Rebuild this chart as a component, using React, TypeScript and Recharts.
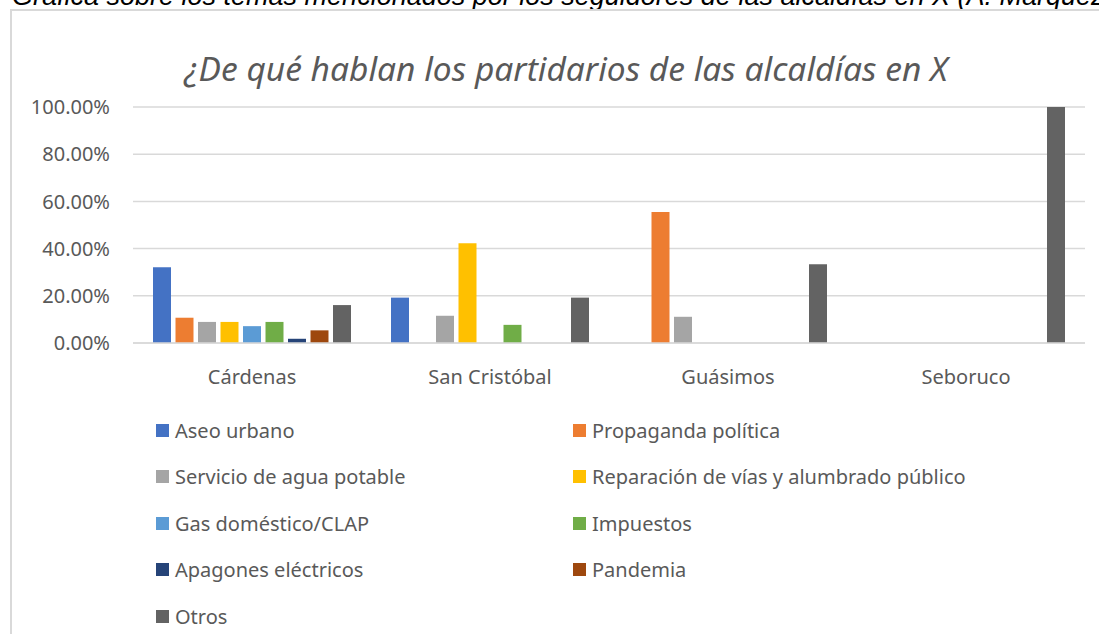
import { Bar, BarChart, CartesianGrid, Legend, XAxis, YAxis } from 'recharts';

const CATEGORIES = ['Cárdenas', 'San Cristóbal', 'Guásimos', 'Seboruco'];

const TOPICS = [
	'Aseo urbano',
	'Propaganda política',
	'Servicio de agua potable',
	'Reparación de vías y alumbrado público',
	'Gas doméstico/CLAP',
	'Impuestos',
	'Apagones eléctricos',
	'Pandemia',
	'Otros',
];

// one value per alcaldía, in CATEGORIES order
const aseoUrbano = [0.3214, 0.1923, 0, 0];
const propaganda = [0.1071, 0, 0.5556, 0];
const aguaPotable = [0.0893, 0.1154, 0.1111, 0];
const reparacionVias = [0.0893, 0.4231, 0, 0];
const gasClap = [0.0714, 0, 0, 0];
const impuestos = [0.0893, 0.0769, 0, 0];
const apagones = [0.0179, 0, 0, 0];
const pandemia = [0.0536, 0, 0, 0];
const otros = [0.1607, 0.1923, 0.3333, 1];

const SERIES = [
	aseoUrbano,
	propaganda,
	aguaPotable,
	reparacionVias,
	gasClap,
	impuestos,
	apagones,
	pandemia,
	otros,
];

const COLORS = [
	'#4472C4',
	'#ED7D31',
	'#A5A5A5',
	'#FFC000',
	'#5B9BD5',
	'#70AD47',
	'#264478',
	'#9E480E',
	'#636363',
];

const Y_TICKS = [0, 0.2, 0.4, 0.6, 0.8, 1];

const data = CATEGORIES.map((name, ci) => {
	const row: Record<string, string | number> = { name };
	TOPICS.forEach((t, ti) => {
		row[t] = SERIES[ti][ci];
	});
	return row;
});

const FONT = '"Noto Sans", "Open Sans", sans-serif';
const TEXT = '#595959';

function LegendGrid({ payload }: any) {
	// keep the series order (legend sorts by name otherwise)
	const items = [...(payload || [])].sort(
		(a: any, b: any) => TOPICS.indexOf(a.value) - TOPICS.indexOf(b.value),
	);
	return (
		<div style={{ position: 'relative', width: 1099, height: 220 }}>
			{items.map((item: any, i: number) => {
				const col = i % 2;
				const row = Math.floor(i / 2);
				return (
					<div
						key={item.value}
						style={{
							position: 'absolute',
							left: 156 + col * 417,
							top: row * 46.6,
							height: 24,
							display: 'flex',
							alignItems: 'center',
							fontFamily: FONT,
							fontSize: 20,
							color: TEXT,
							whiteSpace: 'nowrap',
						}}
					>
						<span
							style={{
								display: 'inline-block',
								width: 13,
								height: 13,
								background: item.color,
								marginRight: 6,
							}}
						/>
						{item.value}
					</div>
				);
			})}
		</div>
	);
}

export default function App() {
	return (
		<div
			style={{
				position: 'absolute',
				left: 0,
				top: 0,
				width: 1099,
				height: 634,
				overflow: 'hidden',
				background: '#fff',
			}}
		>
			<div
				style={{
					position: 'absolute',
					left: 12,
					top: -17,
					fontFamily: '"Liberation Sans", Arial, sans-serif',
					fontStyle: 'italic',
					fontSize: 27,
					lineHeight: '27px',
					color: '#000',
					whiteSpace: 'nowrap',
				}}
			>
				Gráfica sobre los temas mencionados por los seguidores de las alcaldías en X (A. Márquez, 2024)
			</div>
			<div
				style={{
					position: 'absolute',
					left: 10,
					top: 9,
					width: 1200,
					height: 700,
					border: '2px solid #d9d9d9',
				}}
			/>
			<div
				style={{
					position: 'absolute',
					left: 0,
					width: 1132,
					top: 46,
					textAlign: 'center',
					fontFamily: FONT,
					fontStyle: 'italic',
					fontWeight: 400,
					fontSize: 33.5,
					lineHeight: '44px',
					color: TEXT,
					whiteSpace: 'nowrap',
				}}
			>
				¿De qué hablan los partidarios de las alcaldías en X
			</div>
			<div style={{ position: 'absolute', left: 0, top: 0 }}>
				<BarChart
					width={1099}
					height={634}
					data={data}
					margin={{ top: 107, right: 14, bottom: 251, left: 33 }}
					barCategoryGap={20}
					barGap={4.5}
				>
					<CartesianGrid vertical={false} stroke="#d9d9d9" strokeWidth={1.5} />
					<XAxis
						dataKey="name"
						axisLine={{ stroke: '#d9d9d9', strokeWidth: 1.5 }}
						tickLine={false}
						tickMargin={21}
						tick={{ fill: TEXT, fontSize: 20, fontFamily: FONT }}
						height={40}
					/>
					<YAxis
						domain={[0, 1]}
						ticks={Y_TICKS}
						width={100}
						axisLine={false}
						tickLine={false}
						tickMargin={17}
						tickFormatter={(v: number) => `${(v * 100).toFixed(2)}%`}
						tick={{ fill: TEXT, fontSize: 20, fontFamily: FONT }}
					/>
					<Legend
						layout="horizontal"
						verticalAlign="middle"
						align="center"
						content={<LegendGrid />}
						wrapperStyle={{ position: 'absolute', left: 0, top: 418, width: 1099 }}
					/>
					{TOPICS.map((t, i) => (
						<Bar key={t} dataKey={t} fill={COLORS[i]} isAnimationActive={false} />
					))}
				</BarChart>
			</div>
		</div>
	);
}
